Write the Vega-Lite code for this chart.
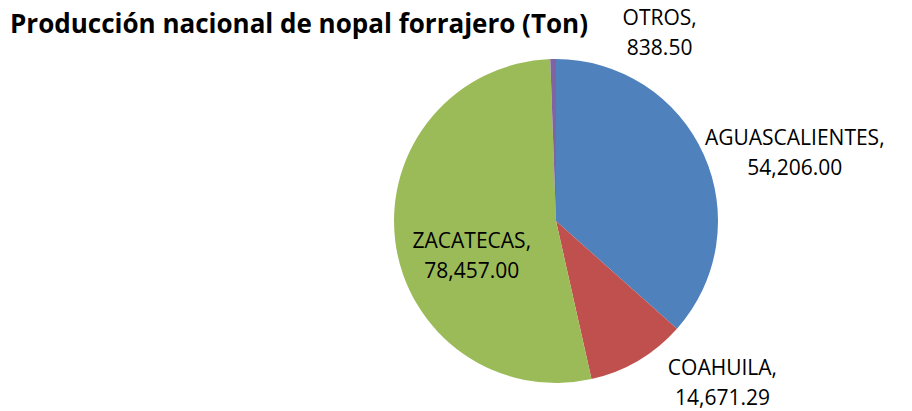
{
  "$schema": "https://vega.github.io/schema/vega-lite/v6.json",
  "width": 324,
  "height": 324,
  "autosize": {"type": "none"},
  "padding": {"left": 394, "top": 59, "right": 194, "bottom": 28},
  "background": "white",
  "config": {"view": {"stroke": null}, "font": "Open Sans"},
  "title": {
    "text": "Producción nacional de nopal forrajero (Ton)",
    "anchor": "start",
    "frame": "group",
    "font": "Open Sans",
    "fontWeight": "bold",
    "fontSize": 26,
    "color": "#000000",
    "baseline": "alphabetic",
    "dx": -384,
    "offset": 0,
    "dy": 73
  },
  "data": {
    "values": [
      {"estado": "AGUASCALIENTES", "valor": 54206.00, "orden": 1, "etiqueta": "AGUASCALIENTES,\n54,206.00"},
      {"estado": "COAHUILA", "valor": 14671.29, "orden": 2, "etiqueta": "COAHUILA,\n14,671.29"},
      {"estado": "ZACATECAS", "valor": 78457.00, "orden": 3, "etiqueta": "ZACATECAS,\n78,457.00"},
      {"estado": "OTROS", "valor": 838.50, "orden": 4, "etiqueta": "OTROS,\n838.50"}
    ]
  },
  "encoding": {
    "theta": {"field": "valor", "type": "quantitative", "stack": true},
    "order": {"field": "orden", "type": "quantitative", "sort": "ascending"}
  },
  "layer": [
    {
      "mark": {"type": "arc", "outerRadius": 162, "stroke": null},
      "encoding": {
        "color": {
          "field": "estado",
          "type": "nominal",
          "scale": {
            "domain": ["AGUASCALIENTES", "COAHUILA", "ZACATECAS", "OTROS"],
            "range": ["#4F81BD", "#C0504D", "#9BBB59", "#8064A2"]
          },
          "legend": null
        }
      }
    },
    {
      "mark": {"type": "text", "radius": 190, "dx": 107, "dy": -12, "align": "center", "baseline": "middle", "lineBreak": "\n", "lineHeight": 30, "fontSize": 21, "font": "Open Sans", "color": "#000000"},
      "encoding": {"text": {"condition": {"test": "datum.estado === 'OTROS'", "field": "etiqueta"}, "value": ""}}
    },
    {
      "mark": {"type": "text", "radius": 220, "dx": 38, "dy": 8, "align": "center", "baseline": "middle", "lineBreak": "\n", "lineHeight": 30, "fontSize": 21, "font": "Open Sans", "color": "#000000"},
      "encoding": {"text": {"condition": {"test": "datum.estado === 'AGUASCALIENTES'", "field": "etiqueta"}, "value": ""}}
    },
    {
      "mark": {"type": "text", "radius": 200, "dx": 65, "dy": -24, "align": "center", "baseline": "middle", "lineBreak": "\n", "lineHeight": 30, "fontSize": 21, "font": "Open Sans", "color": "#000000"},
      "encoding": {"text": {"condition": {"test": "datum.estado === 'COAHUILA'", "field": "etiqueta"}, "value": ""}}
    },
    {
      "mark": {"type": "text", "radius": 100, "dx": 15, "dy": 8, "align": "center", "baseline": "middle", "lineBreak": "\n", "lineHeight": 30, "fontSize": 21, "font": "Open Sans", "color": "#000000"},
      "encoding": {"text": {"condition": {"test": "datum.estado === 'ZACATECAS'", "field": "etiqueta"}, "value": ""}}
    }
  ]
}
